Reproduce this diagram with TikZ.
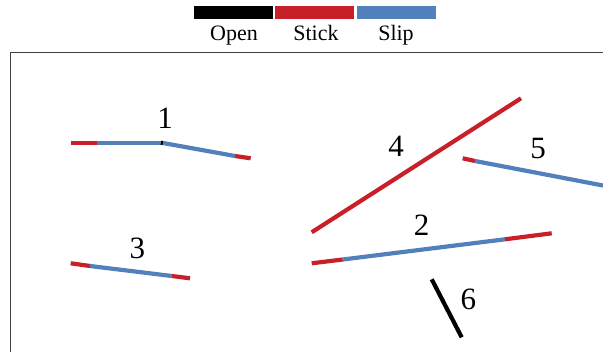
\documentclass[tikz,border=0pt]{standalone}
\usepackage{fontspec}
\setmainfont{Liberation Serif}
\definecolor{stickred}{RGB}{200,32,40}
\definecolor{slipblue}{RGB}{82,128,189}
\definecolor{framegray}{RGB}{64,64,64}
\begin{document}
\begin{tikzpicture}[x=1pt,y=-1pt,
  seg/.style={line width=4.2pt},
  stickseg/.style={seg,draw=stickred},
  slipseg/.style={seg,draw=slipblue},
  openseg/.style={seg,draw=black},
  legbox/.style={minimum width=79pt,minimum height=13.5pt,inner sep=0pt,draw=none},
  legtext/.style={font=\fontsize{22}{22}\selectfont,anchor=base,inner sep=0pt},
  numlab/.style={font=\fontsize{31}{31}\selectfont,anchor=base,inner sep=0pt}]
\useasboundingbox (0,0) rectangle (603,352);
% frame
\draw[framegray,line width=1pt] (10,352) -- (10,52.5) -- (603,52.5);
% legend
\node[legbox,fill=black] (lopen) at (233.5,12.75) {};
\node[legbox,fill=stickred] (lstick) at (314.5,12.75) {};
\node[legbox,fill=slipblue] (lslip) at (396,12.75) {};
\node[legtext] (topen) at (234,40.5) {Open};
\node[legtext] (tstick) at (316,40.5) {Stick};
\node[legtext] (tslip) at (396,40.5) {Slip};
% fracture 1
\coordinate (a1) at (70.5,142.7);
\coordinate (a2) at (96.5,142.7);
\coordinate (a3) at (161,142.7);
\coordinate (a3b) at (163,143);
\coordinate (a4) at (235,156);
\coordinate (a5) at (250.7,158.3);
\draw[stickseg] (a1) -- (a2);
\draw[slipseg] (a2) -- (a3);
\draw[openseg] (a3) -- (a3b);
\draw[slipseg] (a3b) -- (a4);
\draw[stickseg] (a4) -- (a5);
\node[numlab] (n1) at (165,128.3) {1};
% fracture 2
\coordinate (b1) at (311.7,263.3);
\coordinate (b2) at (342.7,259.5);
\coordinate (b3) at (505,239.3);
\coordinate (b4) at (551.7,233.3);
\draw[stickseg] (b1) -- (b2);
\draw[slipseg] (b2) -- (b3);
\draw[stickseg] (b3) -- (b4);
\node[numlab] (n2) at (421.7,236) {2};
% fracture 3
\coordinate (c1) at (70.7,263.3);
\coordinate (c2) at (90,266);
\coordinate (c3) at (171.7,276);
\coordinate (c4) at (190,278.3);
\draw[stickseg] (c1) -- (c2);
\draw[slipseg] (c2) -- (c3);
\draw[stickseg] (c3) -- (c4);
\node[numlab] (n3) at (137.3,258.3) {3};
% fracture 4
\coordinate (d1) at (311.7,232.3);
\coordinate (d2) at (521,98.3);
\draw[stickseg] (d1) -- (d2);
\node[numlab] (n4) at (396,156.7) {4};
% fracture 5
\coordinate (e1) at (462.7,158.3);
\coordinate (e2) at (475,161);
\coordinate (e3) at (603,185.5);
\draw[stickseg] (e1) -- (e2);
\draw[slipseg] (e2) -- (e3);
\node[numlab] (n5) at (538,158.3) {5};
% fracture 6
\coordinate (f1) at (431.7,279.3);
\coordinate (f2) at (461.7,337.3);
\draw[openseg] (f1) -- (f2);
\node[numlab] (n6) at (468.3,309.3) {6};
\end{tikzpicture}
\end{document}
